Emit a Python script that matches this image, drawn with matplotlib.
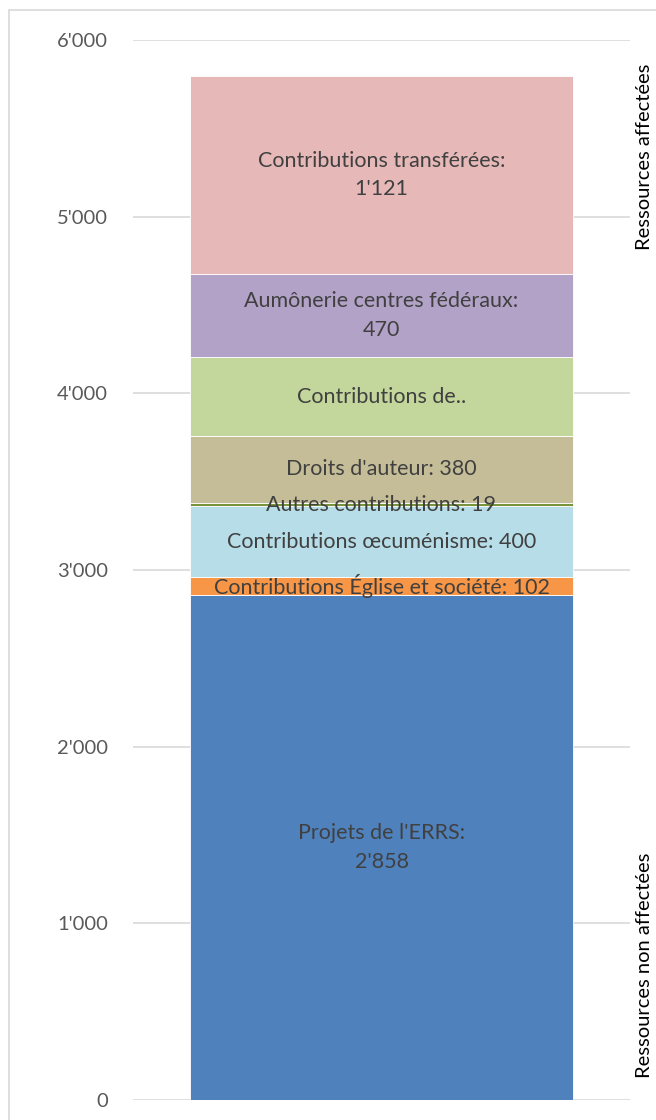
import matplotlib.pyplot as plt
from matplotlib.patches import Rectangle

plt.rcParams['font.family'] = ['Lato', 'DejaVu Sans']

# données (en milliers)
labels = ["Projets de l'ERRS:\n2'858",
          "Contributions Église et société: 102",
          "Contributions œcuménisme: 400",
          "Autres contributions: 19",
          "Droits d'auteur: 380",
          "Contributions de..",
          "Aumônerie centres fédéraux:\n470",
          "Contributions transférées:\n1'121"]
values = [2858, 102, 400, 19, 380, 446, 470, 1121]
colors = ['#4F81BD', '#F79646', '#B7DEE8', '#77933C',
          '#C4BD97', '#C3D69B', '#B2A2C7', '#E6B9B8']
yticks = [0, 1000, 2000, 3000, 4000, 5000, 6000]
ytick_labels = ["0", "1'000", "2'000", "3'000", "4'000", "5'000", "6'000"]

fig = plt.figure(figsize=(6.56, 11.2), dpi=100)
ax = fig.add_axes([133 / 656, 20 / 1120, 497 / 656, 1060 / 1120])

bottom = 0
for lab, v, c in zip(labels, values, colors):
    ax.bar(0, v, bottom=bottom, width=0.771, color=c, edgecolor='white', linewidth=0.6)
    ax.text(0, bottom + v / 2, lab, ha='center', va='center', fontsize=15.5,
            color='#404040', linespacing=1.55)
    bottom += v

ax.set_xlim(-0.5, 0.5)
ax.set_ylim(0, 6000)
ax.set_yticks(yticks)
ax.set_yticklabels(ytick_labels, fontsize=14.5, color='#595959')
ax.set_xticks([])
ax.tick_params(axis='y', length=0, pad=18)
ax.grid(axis='y', color='#D9D9D9', linewidth=1.2)
ax.set_axisbelow(True)
for s in ax.spines.values():
    s.set_visible(False)

fig.text(645 / 656, 1 - 157 / 1120, "Ressources affectées", rotation=90,
         ha='center', va='center', fontsize=14.5, color='black')
fig.text(645 / 656, 1 - 965 / 1120, "Ressources non affectées", rotation=90,
         ha='center', va='center', fontsize=14.5, color='black')

# cadre du graphique
fig.patches.append(Rectangle((9 / 656, -0.01), 1.0, 1 - 10 / 1120 + 0.01,
                             transform=fig.transFigure, fill=False,
                             edgecolor='#D9D9D9', linewidth=1.2))

fig.savefig('out.png', dpi=100)
